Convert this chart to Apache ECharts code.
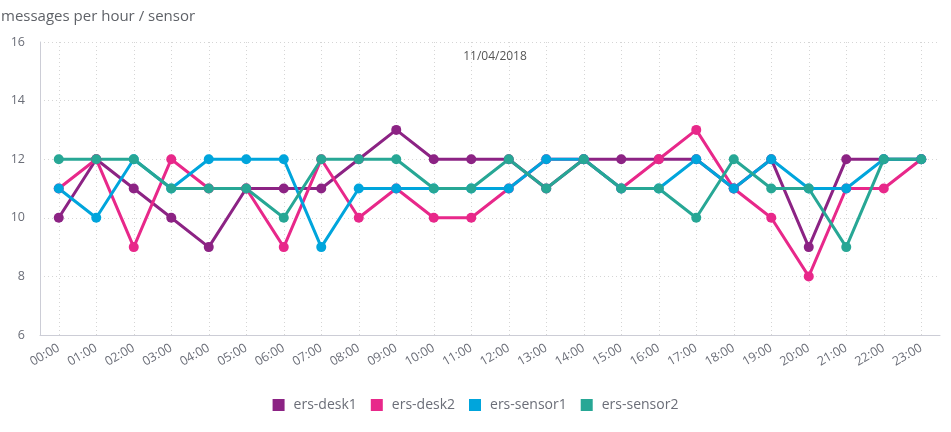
<!DOCTYPE html>
<html><head><meta charset="utf-8">
<script src="https://cdn.jsdelivr.net/npm/echarts@6/dist/echarts.min.js"></script>
<style>html,body{margin:0;padding:0;background:#fff}#c{width:951px;height:432px}</style>
</head><body><div id="c"></div>
<script>
const hours = ["00:00","01:00","02:00","03:00","04:00","05:00","06:00","07:00","08:00","09:00","10:00","11:00","12:00","13:00","14:00","15:00","16:00","17:00","18:00","19:00","20:00","21:00","22:00","23:00"];
const seriesNames = ["ers-desk1","ers-desk2","ers-sensor1","ers-sensor2"];
const desk1   = [10,12,11,10,9,11,11,11,12,13,12,12,12,11,12,12,12,12,11,12,9,12,12,12];
const desk2   = [11,12,9,12,11,11,9,12,10,11,10,10,11,12,12,11,12,13,11,10,8,11,11,12];
const sensor1 = [11,10,12,11,12,12,12,9,11,11,11,11,11,12,12,11,11,12,11,12,11,11,12,12];
const sensor2 = [12,12,12,11,11,11,10,12,12,12,11,11,12,11,12,11,11,10,12,11,11,9,12,12];
const colors = ["#8C2384","#E8288A","#00A5DC","#27A795"];
const dataSets = [desk1, desk2, sensor1, sensor2];

const chart = echarts.init(document.getElementById('c'), null, {renderer:'canvas'});
const font = "'Open Sans', sans-serif";
chart.setOption({
  animation: false,
  color: colors,
  textStyle: {fontFamily: font},
  title: [
    {text: 'messages per hour / sensor', left: -4, top: 4,
     textStyle: {fontSize: 15, fontWeight: 'normal', color: '#5f6268', fontFamily: font}},
    {text: '11/04/2018', left: 490, top: 46, textAlign: 'center',
     textStyle: {fontSize: 12, fontWeight: 'normal', color: '#555', fontFamily: font}}
  ],
  grid: {left: 40, right: 11, top: 42, bottom: 97},
  legend: {
    bottom: 15, left: 'center', icon: 'rect', itemWidth: 12, itemHeight: 12, itemGap: 14,
    textStyle: {fontSize: 14, color: '#6b6e78', fontFamily: font, padding: [0,0,0,4]},
    data: seriesNames
  },
  xAxis: {
    type: 'category', data: hours, boundaryGap: true,
    axisLine: {lineStyle: {color: '#cccdd6'}},
    axisTick: {show: false},
    axisLabel: {rotate: 30, color: '#6b6e78', fontSize: 12.5, interval: 0, margin: 12, fontFamily: font},
    splitLine: {show: true, alignWithLabel: true, interval: 0, lineStyle: {type: [1,3], color: '#d5d5d5'}}
  },
  yAxis: {
    type: 'value', min: 6, max: 16, interval: 2,
    axisLine: {show: true, lineStyle: {color: '#cccdd6'}},
    axisTick: {show: false},
    axisLabel: {color: '#6b6e78', fontSize: 12.5, margin: 15, fontFamily: font},
    splitLine: {lineStyle: {type: [1,3], color: '#d5d5d5'}}
  },
  series: seriesNames.map((n, i) => ({
    name: n, type: 'line', data: dataSets[i],
    symbol: 'circle', symbolSize: 10,
    lineStyle: {width: 3},
    itemStyle: {color: colors[i]}
  }))
});
</script></body></html>
